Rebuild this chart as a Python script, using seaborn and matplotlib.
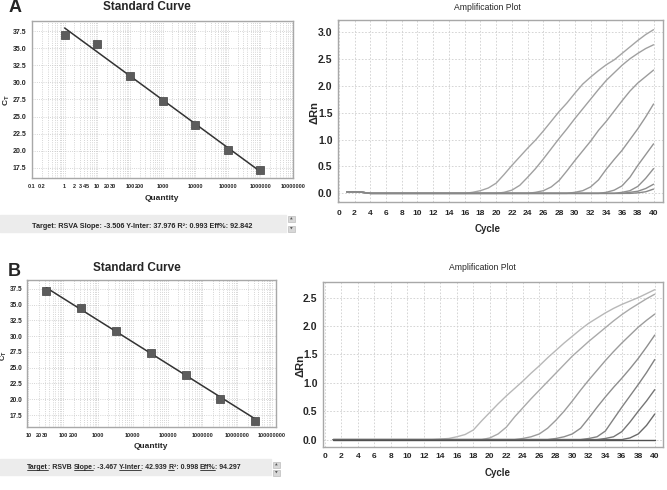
import numpy as np
import pandas as pd
import seaborn as sns
import matplotlib.pyplot as plt
from matplotlib.patches import Rectangle
from matplotlib.lines import Line2D
from matplotlib.ticker import LogLocator, FixedLocator, NullFormatter

# ---- standard curve data ----
qty_a = [1, 10, 100, 1000, 10000, 100000, 1000000]
ct_a = [37.0, 35.6, 31.0, 27.3, 23.8, 20.1, 17.1]
slope_a, inter_a = -3.506, 37.976

qty_b = [33, 330, 3300, 33000, 330000, 3300000, 33000000]
ct_b = [37.1, 34.5, 30.8, 27.3, 23.8, 20.1, 16.6]
slope_b, inter_b = -3.467, 42.939

qty_ticks_a = [0.1, 0.2, 1, 2, 3, 4, 5, 10, 20, 30, 100, 200, 1000, 10000,
               100000, 1000000, 10000000]
qty_labels_a = ['0.1', '0.2', '1', '2', '3', '4', '5', '10', '20', '30', '100',
                '200', '1000', '10000', '100000', '1000000', '10000000']
qty_ticks_b = [10, 20, 30, 100, 200, 1000, 10000, 100000, 1000000, 10000000,
               100000000]
qty_labels_b = ['10', '20', '30', '100', '200', '1000', '10000', '100000',
                '1000000', '10000000', '100000000']
ct_ticks = [17.5, 20.0, 22.5, 25.0, 27.5, 30.0, 32.5, 35.0, 37.5]

stats_a = 'Target: RSVA Slope: -3.506 Y-Inter: 37.976 R\u00b2: 0.993 Eff%: 92.842'
# (text, underlined)
stats_b = [('Target', True), (': RSVB ', False), ('Slope', True), (': -3.467 ', False),
           ('Y-Inter', True), (': 42.939 ', False), ('R', True), ('\u00b2: 0.998 ', False),
           ('Eff%', True), (': 94.297', False)]

# ---- amplification data (delta Rn per cycle 1..40) ----
cycles = list(range(1, 41))
amp_a = {
    'a1': [0.03, 0.03, 0.02] + [0.0] * 13 + [0.02, 0.05, 0.10, 0.19, 0.35, 0.52, 0.68, 0.84, 0.99, 1.16, 1.34, 1.52,
                                             1.68, 1.86, 2.03, 2.16, 2.28, 2.39, 2.48, 2.60, 2.72, 2.84, 2.95, 3.04],
    'a2': [0.03, 0.03, 0.02] + [0.0] * 17 + [0.02, 0.06, 0.15, 0.30, 0.46, 0.64, 0.83, 1.02, 1.20, 1.39,
                                             1.57, 1.75, 1.93, 2.10, 2.24, 2.38, 2.50, 2.60, 2.69, 2.76],
    'a3': [0.03, 0.03, 0.02] + [0.0] * 21 + [0.02, 0.05, 0.12, 0.24, 0.42, 0.61, 0.79, 0.97,
                                             1.17, 1.34, 1.53, 1.72, 1.90, 2.05, 2.17, 2.29],
    'a4': [0.03, 0.03, 0.02] + [0.0] * 26 + [0.02, 0.05, 0.12, 0.25, 0.45, 0.63, 0.80, 1.00, 1.20, 1.42, 1.66],
    'a5': [0.03, 0.03, 0.02] + [0.0] * 30 + [0.02, 0.06, 0.14, 0.30, 0.52, 0.72, 0.92],
    'a6': [0.03, 0.03, 0.02] + [0.0] * 32 + [0.02, 0.05, 0.13, 0.28, 0.46],
    'a7': [0.03, 0.03, 0.02] + [0.0] * 33 + [0.02, 0.04, 0.09, 0.17],
    'a8': [0.03, 0.03, 0.02] + [0.0] * 34 + [0.01, 0.03, 0.08],
}
colors_a = ['#a4a4a4', '#a0a0a0', '#9c9c9c', '#989898', '#949494', '#909090', '#8c8c8c', '#888888']

amp_b = {
    'b1': [0.0] * 13 + [0.01, 0.02, 0.05, 0.09, 0.17, 0.33, 0.48, 0.63, 0.77, 0.90, 1.03, 1.17, 1.30, 1.44,
                        1.57, 1.70, 1.82, 1.94, 2.05, 2.14, 2.23, 2.31, 2.38, 2.44, 2.50, 2.57, 2.64],
    'b2': [0.0] * 19 + [0.03, 0.10, 0.22, 0.40, 0.56, 0.72, 0.87, 1.02, 1.17, 1.32, 1.47,
                        1.60, 1.73, 1.85, 1.97, 2.09, 2.20, 2.30, 2.39, 2.48, 2.56],
    'b3': [0.0] * 23 + [0.02, 0.05, 0.10, 0.20, 0.34, 0.50, 0.68, 0.87, 1.05,
                        1.22, 1.39, 1.55, 1.70, 1.84, 1.98, 2.10, 2.21],
    'b4': [0.0] * 27 + [0.02, 0.05, 0.10, 0.20, 0.38, 0.57, 0.75, 0.92, 1.08, 1.25, 1.43, 1.63, 1.84],
    'b5': [0.0] * 31 + [0.02, 0.05, 0.15, 0.36, 0.57, 0.77, 0.97, 1.18, 1.41],
    'b6': [0.0] * 33 + [0.02, 0.05, 0.14, 0.31, 0.50, 0.68, 0.88],
    'b7': [0.0] * 36 + [0.03, 0.10, 0.25, 0.45],
    'b8': [0.0] * 40,
}
colors_b = ['#b8b8b8', '#aaaaaa', '#9c9c9c', '#8e8e8e', '#828282', '#767676', '#6a6a6a', '#505050']

sns.set_style('white')
plt.rcParams['font.family'] = ['Liberation Sans', 'DejaVu Sans']
plt.rcParams['font.weight'] = 'bold'

W, H = 667, 490
fig = plt.figure(figsize=(W / 100, H / 100), dpi=100)


def px_axes(x0, y0, x1, y1):
    return fig.add_axes([x0 / W, 1 - y1 / H, (x1 - x0) / W, (y1 - y0) / H])


def px_text(x, y, s, **kw):
    return fig.text(x / W, 1 - y / H, s, **kw)


def frame(ax):
    for sp in ax.spines.values():
        sp.set_color('#a8a8a8')
        sp.set_linewidth(1.0)
    ax.tick_params(which='both', direction='out', length=2, width=0.6, color='#888888', pad=2)


def standard_curve(ax, qty, ct, slope, inter, ticks, labels, xlim, ylim):
    ax.set_xscale('log')
    fit_x = [qty[0], qty[-1]]
    fit_y = [inter + slope * np.log10(q) for q in fit_x]
    sns.lineplot(x=fit_x, y=fit_y, ax=ax, color='#333333', lw=1.1)
    sns.scatterplot(x=qty, y=ct, ax=ax, marker='s', s=36, color='#5c5c5c',
                    edgecolor='#404040', linewidth=0.5, zorder=3)
    ax.set_xlim(*xlim)
    ax.set_ylim(*ylim)
    ax.xaxis.set_major_locator(FixedLocator(ticks))
    ax.set_xticklabels(labels, fontsize=4)
    ax.xaxis.set_minor_locator(LogLocator(base=10, subs=np.arange(1, 10), numticks=60))
    ax.xaxis.set_minor_formatter(NullFormatter())
    ax.set_yticks(ct_ticks)
    ax.set_yticklabels([f'{v:.1f}' for v in ct_ticks], fontsize=5)
    ax.grid(True, which='both', axis='x', color='#c8c8c8', ls=':', lw=0.6)
    ax.grid(True, which='major', axis='y', color='#c8c8c8', ls=':', lw=0.6)
    ax.tick_params(axis='x', which='minor', length=0)
    ax.set_xlabel('')
    ax.set_ylabel('')
    frame(ax)


def amp_plot(ax, curves, colors, xlim, ylim, yticks):
    df = pd.DataFrame([(w, c, v) for w, vals in curves.items() for c, v in zip(cycles, vals)],
                      columns=['well', 'cycle', 'drn'])
    sns.lineplot(data=df, x='cycle', y='drn', hue='well', palette=colors, legend=False,
                 estimator=None, sort=False, lw=1.0, ax=ax)
    ax.set_xlim(*xlim)
    ax.set_ylim(*ylim)
    ax.set_xticks(range(0, 41, 2))
    ax.set_xticklabels([str(c) for c in range(0, 41, 2)], fontsize=6)
    ax.set_yticks(yticks)
    ax.set_yticklabels([f'{v:.1f}' for v in yticks], fontsize=7.5)
    ax.grid(True, color='#cfcfcf', ls=(0, (2, 2)), lw=0.6)
    ax.set_xlabel('')
    ax.set_ylabel('')
    frame(ax)


# ---- panel A ----
ax1 = px_axes(32, 21, 293, 178)
standard_curve(ax1, qty_a, ct_a, slope_a, inter_a, qty_ticks_a, qty_labels_a,
               (0.1, 1e7), (16.0, 39.0))
ax2 = px_axes(338, 20, 663, 202)
amp_plot(ax2, amp_a, colors_a, (-0.1, 41.2), (-0.16, 3.22), [0.0, 0.5, 1.0, 1.5, 2.0, 2.5, 3.0])
ax2.tick_params(axis='x', pad=4)

# ---- panel B ----
ax3 = px_axes(27, 280, 276, 427)
standard_curve(ax3, qty_b, ct_b, slope_b, inter_b, qty_ticks_b, qty_labels_b,
               (9.2, 1.3e8), (15.6, 38.9))
ax3.tick_params(axis='y', pad=1.5, labelsize=4.7)
ax4 = px_axes(323, 282, 663, 447)
amp_plot(ax4, amp_b, colors_b, (-0.24, 41.0), (-0.13, 2.775), [0.0, 0.5, 1.0, 1.5, 2.0, 2.5])

# ---- titles and labels ----
px_text(15, 8, 'A', fontsize=13, ha='center', va='center')
px_text(14, 271, 'B', fontsize=13, ha='center', va='center')
px_text(147, 7, 'Standard Curve', fontsize=8.5, ha='center', va='center')
px_text(137, 268, 'Standard Curve', fontsize=8.5, ha='center', va='center')
px_text(487, 8, 'Amplification Plot', fontsize=6.2, ha='center', va='center', fontweight='normal')
px_text(482, 268, 'Amplification Plot', fontsize=6.2, ha='center', va='center', fontweight='normal')
px_text(162, 198, 'Quantity', fontsize=6, ha='center', va='center')
px_text(151, 447, 'Quantity', fontsize=6, ha='center', va='center')
px_text(7, 100, 'C$_\\mathregular{T}$', fontsize=6, ha='center', va='center', rotation=90)
px_text(4, 356, 'C$_\\mathregular{T}$', fontsize=5.5, ha='center', va='center', rotation=90)
px_text(488, 229, 'Cycle', fontsize=7, ha='center', va='center')
px_text(498, 473, 'Cycle', fontsize=7, ha='center', va='center')
px_text(314, 112, '\u0394Rn', fontsize=8, ha='center', va='center', rotation=90)
px_text(300, 365, '\u0394Rn', fontsize=8, ha='center', va='center', rotation=90)

# ---- stats bands ----
for (bx0, by0, bx1, by1) in [(0, 215, 286, 232), (0, 459, 271, 475)]:
    fig.patches.append(Rectangle((bx0 / W, 1 - by1 / H), (bx1 - bx0) / W, (by1 - by0) / H,
                                 transform=fig.transFigure, color='#ececec', zorder=0))
for (bx, by) in [(288, 216), (288, 226), (273, 462), (273, 470)]:
    fig.patches.append(Rectangle((bx / W, 1 - (by + 6) / H), 7 / W, 6 / H,
                                 transform=fig.transFigure, facecolor='#d8d8d8',
                                 edgecolor='#b0b0b0', lw=0.4))
for (bx, by, s) in [(291.5, 219, '\u25b2'), (291.5, 229, '\u25bc'),
                    (276.5, 465, '\u25b2'), (276.5, 473, '\u25bc')]:
    px_text(bx, by, s, fontsize=2.5, ha='center', va='center', color='#555555', family='DejaVu Sans')

px_text(142, 226, stats_a, fontsize=5.2, ha='center', va='center')

renderer = fig.canvas.get_renderer()
cx, base = 27, 469
for s, under in stats_b:
    t = px_text(cx, base, s, fontsize=5.0, ha='left', va='baseline')
    bb = t.get_window_extent(renderer=renderer)
    if under:
        fig.add_artist(Line2D([bb.x0 / W, bb.x1 / W], [(H - base - 1.3) / H] * 2,
                              transform=fig.transFigure, color='black', lw=0.5))
    cx += bb.width

fig.savefig('out.png', dpi=100)
